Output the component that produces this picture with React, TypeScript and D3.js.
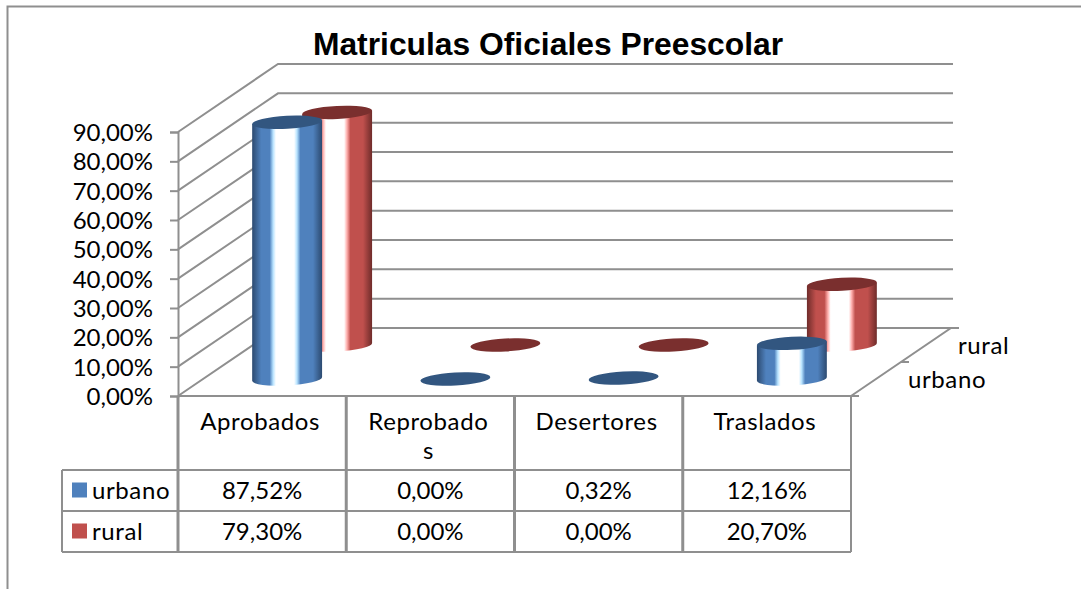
import React, { useEffect, useRef } from "react";
import * as d3 from "d3";

const categories = ["Aprobados", "Reprobados", "Desertores", "Traslados"];
const categoryLines = [["Aprobados"], ["Reprobado", "s"], ["Desertores"], ["Traslados"]];
const seriesNames = ["urbano", "rural"];
const urbano = [87.52, 0, 0.32, 12.16];
const rural = [79.3, 0, 0, 20.7];
const yTicks = [0, 10, 20, 30, 40, 50, 60, 70, 80, 90];
const title = "Matriculas Oficiales Preescolar";

const WIDTH = 1081;
const HEIGHT = 589;
const GRID = "#8f8f8f";
const LABEL_FONT = "Lato, sans-serif";
const LABEL_SIZE = 24;
const WORD_SPACING = 0.6;

const palette = {
  urbano: { id: "cylBlue", cap: "#325680", dark: "#2c4a70", mid: "#4f81bd", light: "#b9e4ff", swatch: "#4f81bd" },
  rural: { id: "cylRed", cap: "#7a2f2e", dark: "#6f2c2a", mid: "#c0504d", light: "#ffb0ae", swatch: "#c0504d" },
};

const App = () => {
  const svgRef = useRef<SVGSVGElement>(null);

  useEffect(() => {
    const svg = d3.select(svgRef.current);
    svg.selectAll("*").remove(); // Clear previous content

    const left = 178;
    const right = 851;
    const floorY = 396;
    const topY = 132;
    const depthX = 100;
    const depthY = -68;
    const tableLeft = 62;
    const rowY = [396, 470, 511, 552];

    const x = d3.scaleBand().domain(categories).range([left, right]);
    const y = d3.scaleLinear().domain([0, 90]).range([floorY, topY]);
    const depth = d3.scalePoint().domain(seriesNames).range([0, 1]).padding(0.5);
    const fmt = d3.formatLocale({ decimal: ",", thousands: ".", grouping: [3], currency: ["", ""] }).format(".2f");
    const pct = (v: number) => `${fmt(v)}%`;

    // gradients for the cylinders
    const defs = svg.append("defs");
    seriesNames.forEach((name) => {
      const p = palette[name];
      const g = defs.append("linearGradient").attr("id", p.id);
      [
        [0, p.dark],
        [0.13, p.mid],
        [0.25, p.mid],
        [0.3, p.light],
        [0.34, "#ffffff"],
        [0.6, "#ffffff"],
        [0.64, p.light],
        [0.69, p.mid],
        [0.87, p.mid],
        [1, p.dark],
      ].forEach(([o, c]) => g.append("stop").attr("offset", o).attr("stop-color", c));
    });

    // chart frame, only left and top show
    svg
      .append("path")
      .attr("d", `M7.5,${HEIGHT}V6.5H${WIDTH}`)
      .attr("fill", "none")
      .attr("stroke", GRID)
      .attr("stroke-width", 2);

    svg
      .append("text")
      .attr("x", 548)
      .attr("y", 55)
      .attr("text-anchor", "middle")
      .attr("font-family", "Liberation Sans, Arial, sans-serif")
      .attr("font-weight", 700)
      .attr("font-size", 31.8)
      .text(title);

    // walls
    const grid = svg.append("g").attr("fill", "none").attr("stroke", GRID).attr("stroke-width", 2);
    yTicks.forEach((t) => {
      grid
        .append("path")
        .attr("d", `M${left},${y(t)}L${left + depthX},${y(t) + depthY}H${right + 102}`);
    });
    grid.append("path").attr("d", `M${right},${floorY}L${right + depthX},${floorY + depthY}H${right + 108}`);
    grid.append("path").attr("d", `M${right + depthX / 2},${floorY + depthY / 2}h8`);
    grid.append("path").attr("d", `M${left},${floorY}H${right + 8}`);

    // value axis
    const axis = svg
      .append("g")
      .attr("transform", `translate(${left},0)`)
      .call(d3.axisLeft(y).tickValues(yTicks).tickSize(8).tickPadding(17).tickFormat((d) => pct(+d)));
    axis.selectAll("path,line").attr("stroke", GRID).attr("stroke-width", 2);
    axis
      .selectAll("text")
      .attr("font-family", LABEL_FONT)
      .attr("font-size", LABEL_SIZE)
      .attr("fill", "#000")
      .attr("dy", "0.36em");

    // cylinders, back row first
    const rx = 35;
    const ry = 6.5;
    const tilt = -3;
    const rad = (tilt * Math.PI) / 180;
    const ex = rx * Math.cos(rad);
    const ey = rx * Math.sin(rad);
    const rows = [
      { name: "rural", values: rural },
      { name: "urbano", values: urbano },
    ];
    rows.forEach((row) => {
      const p = palette[row.name];
      const d = depth(row.name);
      categories.forEach((c, i) => {
        const cx = x(c) + x.bandwidth() / 2 + d * depthX;
        const baseY = floorY + d * depthY;
        const topCy = baseY - (floorY - y(row.values[i]));
        if (row.values[i] > 0.5) {
          svg
            .append("path")
            .attr(
              "d",
              `M${cx - ex},${topCy - ey}L${cx - ex},${baseY - ey}A${rx},${ry} ${tilt} 0 0 ${cx + ex},${baseY + ey}L${cx + ex},${topCy + ey}Z`
            )
            .attr("fill", `url(#${p.id})`);
        }
        svg
          .append("ellipse")
          .attr("cx", 0)
          .attr("cy", 0)
          .attr("rx", rx)
          .attr("ry", ry)
          .attr("transform", `translate(${cx},${topCy}) rotate(${tilt})`)
          .attr("fill", p.cap);
      });
    });

    // series labels on the depth axis
    const depthLabels = svg
      .append("g")
      .attr("font-family", LABEL_FONT)
      .attr("font-size", LABEL_SIZE)
      .attr("letter-spacing", WORD_SPACING)
      .attr("fill", "#000");
    depthLabels.append("text").attr("x", 908).attr("y", 388).text("urbano");
    depthLabels.append("text").attr("x", 958).attr("y", 354).text("rural");

    // data table lines
    const table = svg.append("g").attr("fill", "none").attr("stroke", GRID).attr("stroke-width", 2);
    table.append("path").attr("d", `M${left},${floorY}V${rowY[3]}`).attr("stroke-width", 3);
    table.append("path").attr("d", `M${right},${floorY}V${rowY[3]}`);
    categories.slice(1).forEach((c) => {
      table.append("path").attr("d", `M${x(c)},${floorY}V${rowY[3]}`).attr("stroke-width", 3);
    });
    rowY.slice(1).forEach((ry2) => {
      table.append("path").attr("d", `M${tableLeft},${ry2}H${right}`);
    });
    table.append("path").attr("d", `M${tableLeft},${rowY[1]}V${rowY[3]}`);

    // data table text
    const cells = svg
      .append("g")
      .attr("font-family", LABEL_FONT)
      .attr("font-size", LABEL_SIZE)
      .attr("fill", "#000")
      .attr("text-anchor", "middle");
    categories.forEach((c, i) => {
      const cx = x(c) + x.bandwidth() / 2;
      categoryLines[i].forEach((line, j) => {
        cells
          .append("text")
          .attr("x", cx - 2)
          .attr("y", 430 + j * 29)
          .attr("letter-spacing", WORD_SPACING)
          .text(line);
      });
      cells.append("text").attr("x", cx).attr("y", 499).text(pct(urbano[i]));
      cells.append("text").attr("x", cx).attr("y", 540).text(pct(rural[i]));
    });

    // legend keys in the table
    seriesNames.forEach((name, i) => {
      const mid = (rowY[i + 1] + rowY[i + 2]) / 2;
      svg
        .append("rect")
        .attr("x", 72)
        .attr("y", mid - 8)
        .attr("width", 15)
        .attr("height", 15)
        .attr("fill", palette[name].swatch);
      svg
        .append("text")
        .attr("x", 92)
        .attr("y", mid + 8.5)
        .attr("font-family", LABEL_FONT)
        .attr("font-size", LABEL_SIZE)
        .attr("letter-spacing", WORD_SPACING)
        .text(name);
    });
  }, []);

  return (
    <svg
      ref={svgRef}
      width={WIDTH}
      height={HEIGHT}
      style={{ position: "absolute", left: 0, top: 0, background: "#fff" }}
    ></svg>
  );
};

export default App;
